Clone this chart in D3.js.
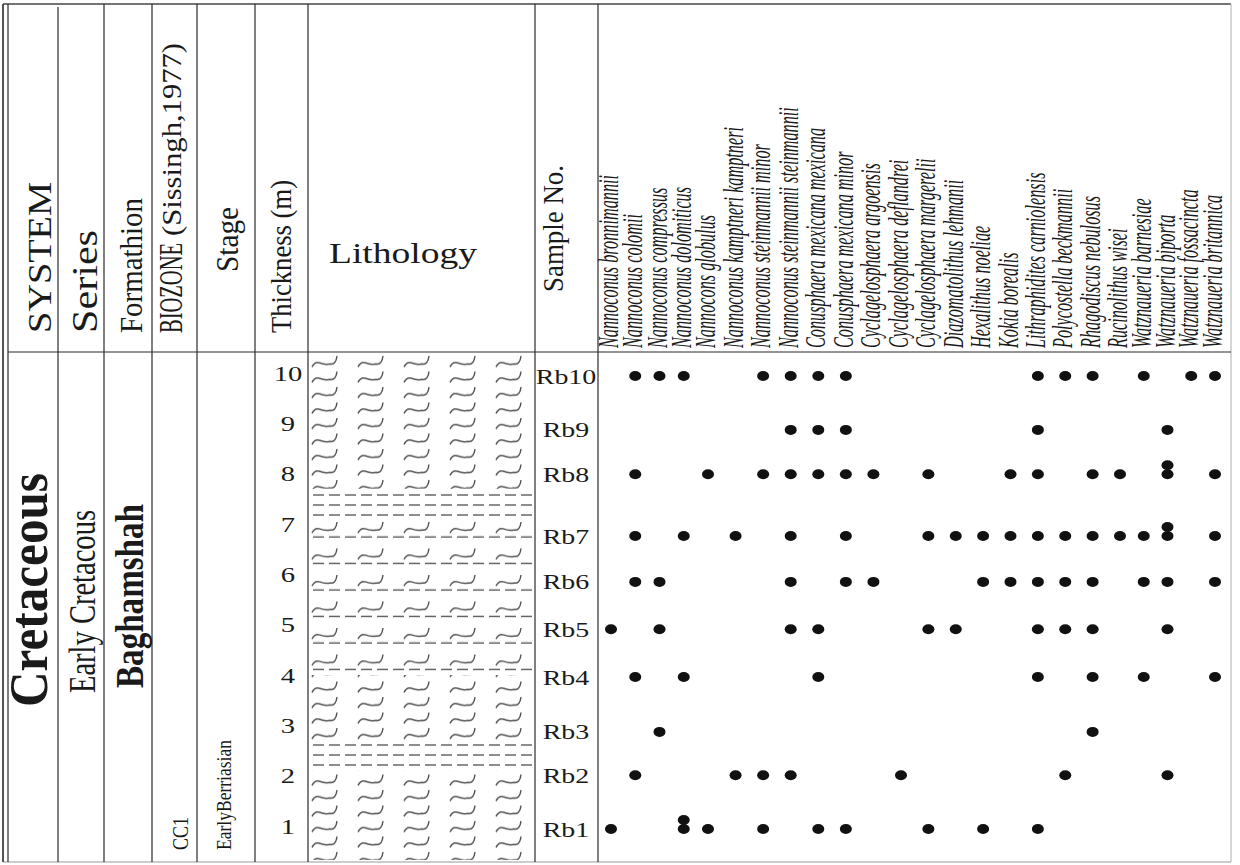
<!DOCTYPE html>
<html>
<head>
<meta charset="utf-8">
<script src="https://cdn.jsdelivr.net/npm/d3@7"></script>
<style>
  body { margin: 0; background: #fff; }
  text { font-family: "Liberation Serif", "Times New Roman", serif; fill: #1a1a1a; }
</style>
</head>
<body>
<div id="chart"></div>
<script>
// data
const species = [
  "Nannoconus bronnimannii", "Nannoconus colomii", "Nannoconus compressus",
  "Nannoconus dolomiticus", "Nannocons globulus", "Nannoconus kamptneri kamptneri",
  "Nannoconus steinmannii minor", "Nannoconus steinmannii steinmannii",
  "Conusphaera mexicana mexicana", "Conusphaera mexicana minor",
  "Cyclagelosphaera argoensis", "Cyclagelosphaera deflandrei",
  "Cyclagelosphaera margerelii", "Diazomatolithus lehmanii", "Hexalithus noeliae",
  "Kokia borealis", "Lithraphidites carniolensis", "Polycostella beckmannii",
  "Rhagodiscus nebulosus", "Rucinolithus wisei", "Watznaueria barnesiae",
  "Watznaueria biporta", "Watznaueria fossacincta", "Watznaueria britannica"
];
const samples = ["Rb1", "Rb2", "Rb3", "Rb4", "Rb5", "Rb6", "Rb7", "Rb8", "Rb9", "Rb10"];
const sampleDepth = [0.94, 2.01, 2.87, 3.96, 4.91, 5.85, 6.76, 7.99, 8.87, 9.94];
const thicknessTicks = [1, 2, 3, 4, 5, 6, 7, 8, 9, 10];
// species number (1-based) present in each sample, Rb1 .. Rb10; repeats are stacked dots
const occurrences = [
  [1, 4, 4, 5, 7, 9, 10, 13, 15, 17],
  [2, 6, 7, 8, 12, 18, 22],
  [3, 19],
  [2, 4, 9, 17, 19, 21, 24],
  [1, 3, 8, 9, 13, 14, 17, 18, 19, 22],
  [2, 3, 8, 10, 11, 15, 16, 17, 18, 19, 21, 22, 24],
  [2, 4, 6, 8, 10, 13, 14, 15, 16, 17, 18, 19, 20, 21, 22, 22, 24],
  [2, 5, 7, 8, 9, 10, 11, 13, 16, 17, 19, 20, 22, 22, 24],
  [8, 9, 10, 17, 22],
  [2, 3, 4, 7, 8, 9, 10, 17, 18, 19, 21, 23, 24]
];
const lithBase = [0.2, 2.1, 2.7, 4.0, 7.1, 7.7];
const lithTop = [2.1, 2.7, 4.0, 7.1, 7.7, 10.5];
const lithType = ["limestone", "shale", "limestone", "marl", "shale", "limestone"];
const headers = ["SYSTEM", "Series", "Formathion", "BIOZONE", "(Sissingh,1977)", "Stage",
  "Thickness (m)", "Lithology", "Sample No."];
const units = ["Cretaceous", "Early Cretacous", "Baghamshah", "CC1", "EarlyBerriasian"];

// layout
const width = 1240, height = 865;
const frame = { top: 4, head: 352, bottom: 862, left: 3, right: 1231 };
const dividers = [8, 58, 104, 152, 197, 255, 308, 535, 598];

const svg = d3.select("#chart").append("svg")
  .attr("width", width).attr("height", height);

// scales
const y = d3.scaleLinear().domain([1, 10]).range([826, 373]);
const x = d3.scaleLinear().domain([0, 4, 11, 19, 23]).range([611, 708, 901, 1120, 1215]);

// lithology patterns
const defs = svg.append("defs");
const squiggle = "M0,9 Q3,3 8,5 T18,6 Q24,7 25,-2";
const inkLith = "#505050";

const pLime = defs.append("pattern").attr("id", "lime")
  .attr("patternUnits", "userSpaceOnUse").attr("x", 310).attr("y", 354)
  .attr("width", 46).attr("height", 15.5);
pLime.append("path").attr("d", squiggle).attr("transform", "translate(2,4)")
  .attr("fill", "none").attr("stroke", inkLith).attr("stroke-width", 1.4);

const pShale = defs.append("pattern").attr("id", "shale")
  .attr("patternUnits", "userSpaceOnUse").attr("x", 312).attr("y", 0)
  .attr("width", 16).attr("height", 10);
pShale.append("line").attr("x1", 1).attr("x2", 12).attr("y1", 5).attr("y2", 5)
  .attr("stroke", inkLith).attr("stroke-width", 1.3);

const pMarlS = defs.append("pattern").attr("id", "marlS")
  .attr("patternUnits", "userSpaceOnUse").attr("x", 310).attr("y", 520)
  .attr("width", 46).attr("height", 26.5);
pMarlS.append("path").attr("d", squiggle).attr("transform", "translate(2,4)")
  .attr("fill", "none").attr("stroke", inkLith).attr("stroke-width", 1.4);

const pMarlD = defs.append("pattern").attr("id", "marlD")
  .attr("patternUnits", "userSpaceOnUse").attr("x", 312).attr("y", 520)
  .attr("width", 16).attr("height", 26.5);
pMarlD.append("line").attr("x1", 1).attr("x2", 12).attr("y1", 17).attr("y2", 17)
  .attr("stroke", inkLith).attr("stroke-width", 1.3);

const lith = svg.append("g");
lithType.forEach((t, i) => {
  const y0 = Math.max(frame.head + 2, y(lithTop[i]));
  const y1 = Math.min(frame.bottom - 2, y(lithBase[i]));
  const fills = t === "marl" ? ["url(#marlS)", "url(#marlD)"] : [t === "shale" ? "url(#shale)" : "url(#lime)"];
  fills.forEach(f => {
    lith.append("rect")
      .attr("x", 310).attr("y", y0)
      .attr("width", 222).attr("height", y1 - y0)
      .attr("fill", f);
  });
});

// grid lines
const grid = svg.append("g").attr("stroke", "#2a2a2a").attr("stroke-width", 1.2);
grid.append("line").attr("x1", frame.left).attr("x2", frame.right)
  .attr("y1", frame.top).attr("y2", frame.top).attr("stroke", "#444").attr("stroke-width", 1.5);
grid.append("line").attr("x1", frame.left).attr("x2", frame.right)
  .attr("y1", frame.bottom).attr("y2", frame.bottom).attr("stroke", "#999");
grid.append("line").attr("x1", frame.right).attr("x2", frame.right)
  .attr("y1", frame.top).attr("y2", frame.bottom).attr("stroke", "#bbb");
grid.append("line").attr("x1", frame.left).attr("x2", frame.left)
  .attr("y1", frame.top).attr("y2", frame.bottom).attr("stroke-width", 1.6);
grid.append("line").attr("x1", dividers[0]).attr("x2", frame.right)
  .attr("y1", frame.head).attr("y2", frame.head);
grid.selectAll(".div").data(dividers).join("line")
  .attr("class", "div")
  .attr("x1", d => d).attr("x2", d => d)
  .attr("y1", (d, i) => i === 1 ? frame.top + 3 : frame.top)
  .attr("y2", frame.bottom);

// rotated text helper
function vText(tx, ty, str, size, len, opts = {}) {
  const t = svg.append("text")
    .attr("transform", `translate(${tx},${ty}) rotate(-90)`)
    .attr("font-size", size)
    .attr("text-anchor", "start")
    .attr("textLength", len)
    .attr("lengthAdjust", "spacingAndGlyphs")
    .text(str);
  if (opts.bold) t.attr("font-weight", "bold");
  return t;
}

// header labels
vText(51, 333, headers[0], 33, 151);
vText(97, 333, headers[1], 35, 103);
vText(142, 333, headers[2], 32, 135);
vText(182, 333, headers[3], 34, 90);
vText(181, 236, headers[4], 28, 193);
vText(238, 272, headers[5], 32, 65);
vText(291, 333, headers[6], 30, 153);
vText(563, 292, headers[8], 30, 127);
svg.append("text")
  .attr("x", 329).attr("y", 263)
  .attr("font-size", 30)
  .attr("textLength", 148).attr("lengthAdjust", "spacingAndGlyphs")
  .text(headers[7]);

// unit labels
vText(47, 707, units[0], 54, 234, { bold: true });
vText(95, 693, units[1], 37, 183);
vText(143, 688, units[2], 40, 184, { bold: true });
vText(188, 850, units[3], 23, 33);
vText(231, 850, units[4], 20, 110);

// thickness numbers
svg.append("g").selectAll("text").data(thicknessTicks).join("text")
  .attr("transform", d => `translate(288,${y(d) + 7.5}) scale(1.3,1)`)
  .attr("text-anchor", "middle")
  .attr("font-size", 22)
  .text(d => d);

// sample labels
svg.append("g").selectAll("text").data(samples).join("text")
  .attr("transform", (d, i) => `translate(566,${y(sampleDepth[i]) + 7.5}) scale(1.27,1)`)
  .attr("text-anchor", "middle")
  .attr("font-size", 22)
  .text(d => d);

// species names
svg.append("g").selectAll("text").data(species).join("text")
  .attr("transform", (d, i) => `translate(${x(i) + 7},348) rotate(-90) scale(0.56,1)`)
  .attr("font-size", 29)
  .attr("font-style", "italic")
  .text(d => d);

// occurrence dots
const dots = [];
occurrences.forEach((list, s) => {
  const seen = {};
  list.forEach(sp => {
    seen[sp] = (seen[sp] || 0);
    dots.push({ s, sp: sp - 1, k: seen[sp] });
    seen[sp]++;
  });
});
svg.append("g").selectAll("ellipse").data(dots).join("ellipse")
  .attr("cx", d => x(d.sp))
  .attr("cy", d => y(sampleDepth[d.s]) - d.k * 9)
  .attr("rx", 6).attr("ry", 5)
  .attr("fill", "#111");
</script>
</body>
</html>
